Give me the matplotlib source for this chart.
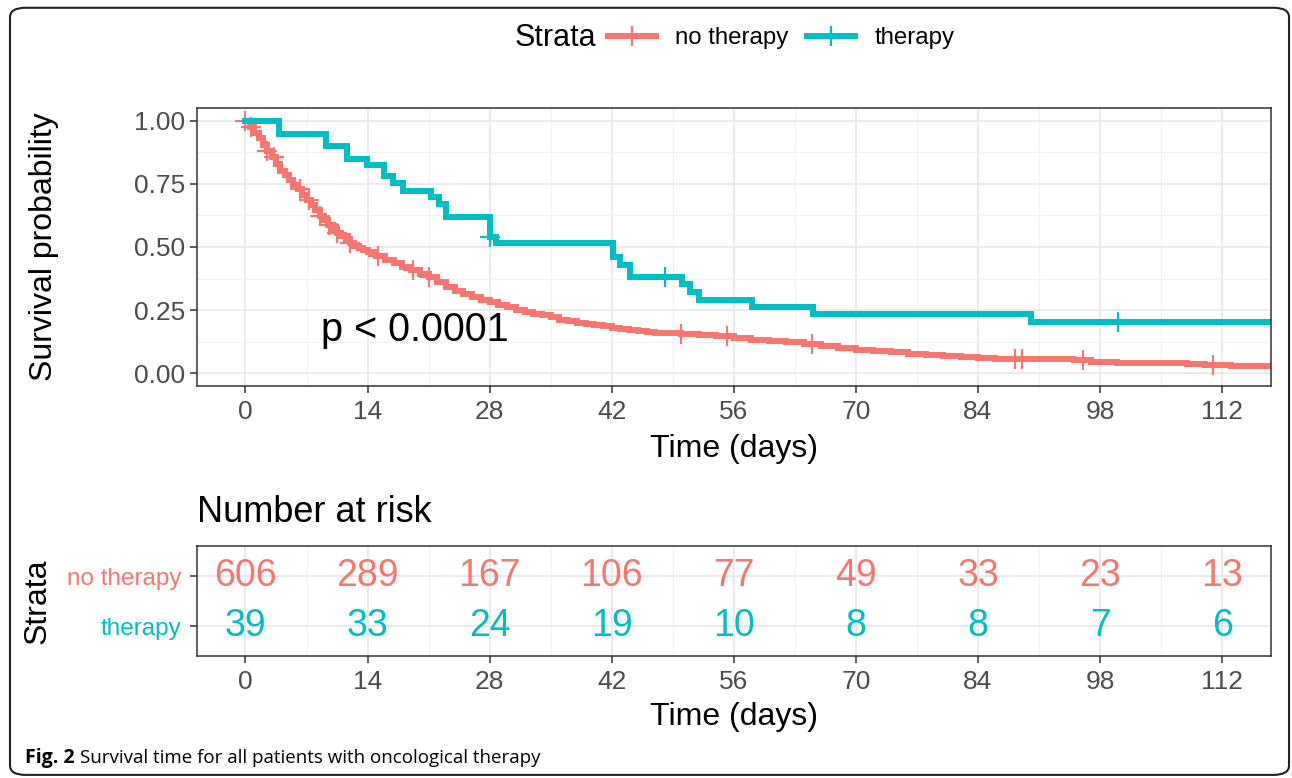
import numpy as np
import matplotlib.pyplot as plt
from matplotlib.lines import Line2D
from matplotlib.patches import FancyBboxPatch

plt.rcParams['font.family'] = ['Liberation Sans', 'DejaVu Sans']

red = '#F8766D'
teal = '#00BFC4'
grey_txt = '#4D4D4D'

# Kaplan-Meier estimates (time in days, survival)
t_no = [0, 0.5, 1, 1.5, 2, 2.5, 3, 3.5, 4, 4.5, 5, 5.5, 6, 6.5, 7, 7.5, 8, 8.5, 9, 9.5,
        10, 10.5, 11, 11.5, 12, 12.5, 13, 13.5, 14, 15, 16, 17, 18, 19, 20, 21, 22, 23,
        24, 25, 26, 27, 28, 29, 30, 31, 32, 33, 34, 35, 36, 37, 38, 39, 40, 41, 42, 43,
        44, 45, 46, 47, 48, 50, 52, 54, 56, 58, 60, 62, 64, 66, 68, 70, 72, 74, 76, 78,
        80, 82, 84, 86, 88, 92, 95, 97, 100, 104, 108, 110, 113]
s_no = [1.0, 0.975, 0.95, 0.93, 0.905, 0.88, 0.855, 0.83, 0.80, 0.785, 0.765, 0.745,
        0.73, 0.705, 0.685, 0.665, 0.645, 0.622, 0.605, 0.585, 0.57, 0.557, 0.545, 0.53,
        0.515, 0.505, 0.495, 0.487, 0.48, 0.465, 0.45, 0.435, 0.42, 0.41, 0.395, 0.38,
        0.36, 0.34, 0.325, 0.312, 0.302, 0.292, 0.283, 0.272, 0.262, 0.252, 0.243, 0.236,
        0.229, 0.222, 0.213, 0.206, 0.2, 0.195, 0.19, 0.186, 0.181, 0.176, 0.171, 0.166,
        0.164, 0.161, 0.159, 0.156, 0.151, 0.146, 0.138, 0.132, 0.127, 0.123, 0.118,
        0.11, 0.1, 0.094, 0.089, 0.083, 0.077, 0.072, 0.068, 0.064, 0.06, 0.058, 0.057,
        0.056, 0.053, 0.046, 0.042, 0.039, 0.036, 0.032, 0.028]
cens_no = [0, 0.6, 2.5, 3.3, 6.3, 7.3, 8.6, 9.6, 10.5, 12, 15.2, 19.2, 21.1,
           50, 55.2, 65, 88.3, 89.1, 96, 111]

t_th = [0, 3.9, 9.2, 11.7, 13.9, 15.9, 16.9, 18.1, 21.3, 22.2, 23.0, 28.0, 28.7,
        42.1, 43.0, 44.1, 50.1, 51.0, 52.0, 58.1, 65.1, 90.1]
s_th = [1.0, 0.949, 0.90, 0.85, 0.825, 0.782, 0.755, 0.723, 0.697, 0.671, 0.617,
        0.54, 0.515, 0.46, 0.43, 0.38, 0.355, 0.32, 0.29, 0.263, 0.235, 0.205]
cens_th = [28.0, 48.1, 100.1]

risk_times = [0, 14, 28, 42, 56, 70, 84, 98, 112]
risk_no = [606, 289, 167, 106, 77, 49, 33, 23, 13]
risk_th = [39, 33, 24, 19, 10, 8, 8, 7, 6]
strata = ['no therapy', 'therapy']

t_end = 120
xlim = (-5.6, 117.6)


def style_axes(ax):
    ax.set_xlim(*xlim)
    ax.set_xticks(risk_times)
    ax.set_xticks(np.arange(7, 112, 14), minor=True)
    ax.grid(which='major', color='#EBEBEB', lw=1.5)
    ax.grid(which='minor', color='#F2F2F2', lw=0.8)
    ax.set_axisbelow(True)
    for sp in ax.spines.values():
        sp.set_color('#333333')
        sp.set_linewidth(1.1)
    ax.tick_params(which='major', length=5, width=1.1, color='#333333',
                   labelsize=19, labelcolor=grey_txt, pad=3)
    ax.tick_params(axis='x', which='major', pad=5)
    ax.tick_params(which='minor', length=0)


fig = plt.figure(figsize=(12.92, 7.78), dpi=100)

ax = fig.add_axes([0.1522, 0.5039, 0.8315, 0.3573])
style_axes(ax)
ax.set_ylim(-0.05, 1.05)
ax.set_yticks([0, 0.25, 0.5, 0.75, 1.0])
ax.set_yticklabels(['0.00', '0.25', '0.50', '0.75', '1.00'])
ax.set_yticks([0.125, 0.375, 0.625, 0.875], minor=True)

for t, s, c, col in [(t_no, s_no, cens_no, red), (t_th, s_th, cens_th, teal)]:
    tt = np.append(t, t_end)
    ss = np.append(s, s[-1])
    ax.step(tt, ss, where='post', color=col, lw=4.3, solid_joinstyle='miter')
    idx = np.searchsorted(t, c, side='right') - 1
    ax.plot(c, np.array(s)[idx], ls='none', marker='+', ms=14, mew=1.6, color=col)

ax.text(8.7, 0.17, 'p < 0.0001', fontsize=28.5, va='center', ha='left')
ax.set_xlabel('Time (days)', fontsize=23, labelpad=7)
ax.set_ylabel('Survival probability', fontsize=23, labelpad=54)

# legend
fig.text(515 / 1292, 1 - 38 / 778, 'Strata', fontsize=22, va='center', ha='left')
handles = [Line2D([], [], color=c, lw=4.3, marker='+', ms=15, mew=1.6) for c in (red, teal)]
fig.legend(handles, strata, ncol=2, frameon=False, fontsize=17.3,
           loc='center left', bbox_to_anchor=(586 / 1292, 1 - 38 / 778),
           handlelength=2.0, columnspacing=0.8, handletextpad=0.8)

# risk table
tb = fig.add_axes([0.1522, 0.1568, 0.8315, 0.1414])
style_axes(tb)
tb.tick_params(axis='y', which='major', pad=6)
tb.set_ylim(0.4, 2.6)
tb.set_yticks([2, 1])
tb.set_yticklabels(strata)
for lab, col in zip(tb.get_yticklabels(), (red, teal)):
    lab.set_color(col)
    lab.set_fontsize(17.5)
for x, a, b in zip(risk_times, risk_no, risk_th):
    tb.text(x, 2, str(a), color=red, fontsize=27, ha='center', va='center')
    tb.text(x, 1, str(b), color=teal, fontsize=27, ha='center', va='center')
tb.set_xlabel('Time (days)', fontsize=23, labelpad=6)
tb.set_ylabel('Strata', fontsize=23, labelpad=10)
tb.set_title('Number at risk', loc='left', fontsize=26, pad=17)

# outer frame and caption
frame = FancyBboxPatch((10 / 1292, 0.004), 1279 / 1292, 0.986,
                       boxstyle='round,pad=0,rounding_size=0.012',
                       transform=fig.transFigure, fill=False, ec='#222222', lw=1.5)
fig.add_artist(frame)
cap = fig.text(25 / 1292, 1 - 758 / 778, 'Fig. 2', fontsize=14, fontweight='bold',
               family='Open Sans', va='center')
ax.annotate('Survival time for all patients with oncological therapy', xy=(1, 0.5),
            xycoords=cap, xytext=(4, 0), textcoords='offset points', va='center',
            fontsize=13.5, family='Open Sans', annotation_clip=False)

fig.savefig('out.png', dpi=100)
